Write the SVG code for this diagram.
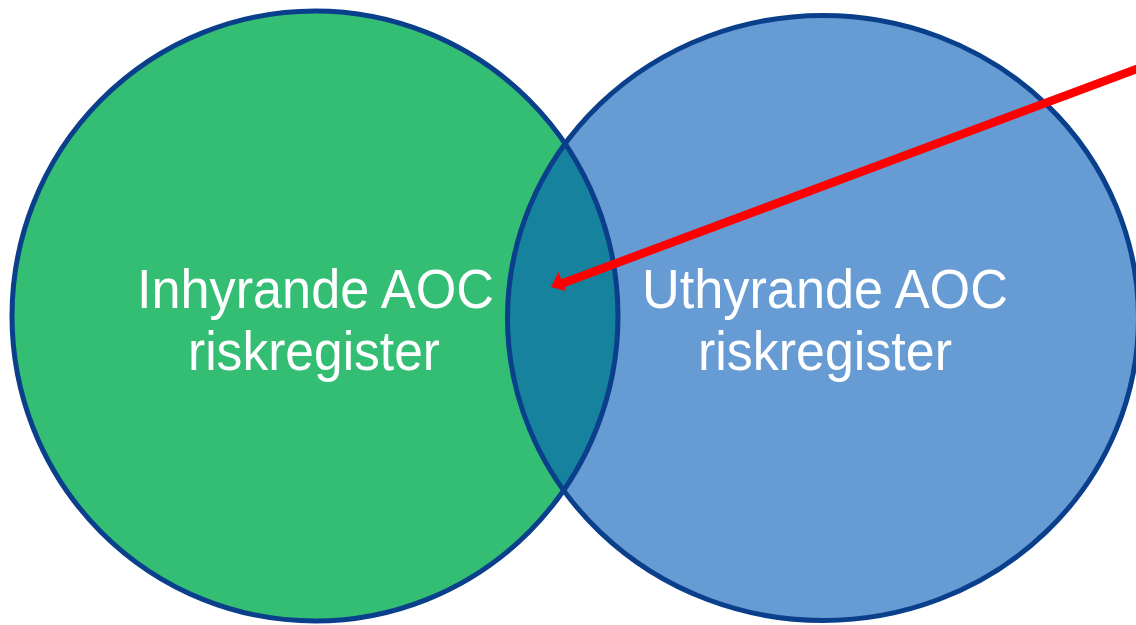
<svg xmlns="http://www.w3.org/2000/svg" width="1136" height="625" viewBox="0 0 1136 625">
<style>
.lbl{font-family:"Liberation Sans",Arial,sans-serif;font-size:56px;fill:#ffffff;text-anchor:middle}
.edge{fill:none;stroke:#0A3F8C;stroke-width:5}
</style>
<defs>
<clipPath id="leftClip"><ellipse cx="315" cy="316" rx="303" ry="305"/></clipPath>
</defs>
<rect width="1136" height="625" fill="#ffffff"/>
<g id="node-inhyrande">
<ellipse cx="315" cy="316" rx="303" ry="305" fill="#34BE74"/>
</g>
<g id="node-uthyrande">
<ellipse cx="823" cy="318" rx="315.5" ry="302.5" fill="#669BD4"/>
</g>
<g id="overlap">
<ellipse cx="823" cy="318" rx="315.5" ry="302.5" fill="#16829E" clip-path="url(#leftClip)"/>
</g>
<ellipse class="edge" cx="315" cy="316" rx="303" ry="305"/>
<ellipse class="edge" cx="823" cy="318" rx="315.5" ry="302.5"/>
<text class="lbl" x="315.5" y="308" textLength="357" lengthAdjust="spacingAndGlyphs">Inhyrande AOC</text>
<text class="lbl" x="314" y="370" textLength="252" lengthAdjust="spacingAndGlyphs">riskregister</text>
<text class="lbl" x="825" y="308" textLength="366" lengthAdjust="spacingAndGlyphs">Uthyrande AOC</text>
<text class="lbl" x="825" y="370" textLength="254" lengthAdjust="spacingAndGlyphs">riskregister</text>
<g id="connectors">
<line x1="1142" y1="67" x2="562" y2="283.5" stroke="#FF0000" stroke-width="8.5"/>
<polygon points="551,287 558.5,272 566,291" fill="#FF0000"/>
</g>
</svg>
